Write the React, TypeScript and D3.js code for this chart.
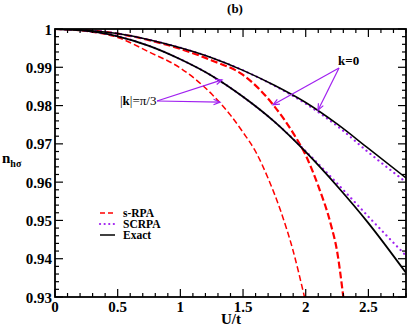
import React from 'react';
import * as d3 from 'd3';

// U/t grid shared by the exact and SCRPA curves
const uGrid = [0, 0.25, 0.5, 0.75, 1.0, 1.25, 1.5, 1.75, 2.0, 2.25, 2.5, 2.8];

// k = 0
const exactK0 = [1, 0.9997, 0.9988, 0.9972, 0.9951, 0.9925, 0.9892, 0.9853, 0.9808, 0.9752, 0.9688, 0.9611];
const scrpaK0 = [1, 0.9997, 0.9988, 0.9972, 0.9951, 0.9925, 0.9892, 0.9852, 0.9805, 0.9747, 0.9678, 0.96];
const srpaK0U = [0, 0.25, 0.5, 0.75, 1.0, 1.25, 1.5, 1.75, 1.9, 2.0, 2.1, 2.2, 2.25, 2.3];
const srpaK0 = [1, 0.9997, 0.9988, 0.9971, 0.9948, 0.9918, 0.988, 0.9798, 0.9728, 0.967, 0.959, 0.949, 0.942, 0.93];

// |k| = pi/3
const exactK3 = [1, 0.9995, 0.9981, 0.9956, 0.9921, 0.9878, 0.9823, 0.9758, 0.9679, 0.959, 0.9493, 0.9363];
const scrpaK3 = [1, 0.9995, 0.9981, 0.9956, 0.9921, 0.9878, 0.9823, 0.9758, 0.9681, 0.9597, 0.951, 0.9408];
const srpaK3U = [0, 0.25, 0.5, 0.75, 1.0, 1.25, 1.4, 1.5, 1.6, 1.7, 1.8, 1.9, 1.99];
const srpaK3 = [1, 0.9994, 0.9978, 0.994, 0.9898, 0.983, 0.9775, 0.973, 0.968, 0.961, 0.9525, 0.942, 0.93];

const xTicks = [0, 0.5, 1, 1.5, 2, 2.5];
const yTicks = [0.93, 0.94, 0.95, 0.96, 0.97, 0.98, 0.99, 1];
const legendItems = ['s-RPA', 'SCRPA', 'Exact'];

const RED = '#ff0000';
const PURPLE = '#a020f0';
const FONT = "'Liberation Serif', 'Times New Roman', serif";

const App = () => {
  const width = 409, height = 327;
  const left = 55, right = 406, top = 29, bottom = 297;

  const x = d3.scaleLinear().domain([0, 2.8]).range([left, right]);
  const y = d3.scaleLinear().domain([0.93, 1]).range([bottom, top]);

  const line = (us: number[], ns: number[]) =>
    d3.line<number>()
      .x((_, i) => x(us[i]))
      .y(d => y(d))
      .curve(d3.curveMonotoneX)(ns) || '';

  const xMinor = d3.range(0, 28.01, 1).map(v => v / 10).filter(v => !xTicks.some(t => Math.abs(t - v) < 1e-6));
  const yMinor = d3.range(930, 1000.1, 2).map(v => v / 1000).filter(v => !yTicks.some(t => Math.abs(t - v) < 1e-6));

  const arrowHead = (x1: number, y1: number, x2: number, y2: number) => {
    const a = Math.atan2(y2 - y1, x2 - x1);
    const l = 7, w = 0.4;
    const p1 = [x2 - l * Math.cos(a - w), y2 - l * Math.sin(a - w)];
    const p2 = [x2 - l * Math.cos(a + w), y2 - l * Math.sin(a + w)];
    return `M${p1[0]},${p1[1]}L${x2},${y2}L${p2[0]},${p2[1]}`;
  };

  const k0Targets = [[273, y(0.9802)], [318, y(0.9788)]];
  const k3Targets = [[222, y(0.9867)], [220, y(0.9809)]];

  return (
    <svg width={width} height={height} style={{ position: 'absolute', left: 0, top: 0, fontFamily: FONT }}>
      <defs>
        <clipPath id="plot">
          <rect x={left} y={top} width={right - left} height={bottom - top} />
        </clipPath>
      </defs>
      <rect width={width} height={height} fill="#fff" />

      <g clipPath="url(#plot)" fill="none">
        <path d={line(srpaK3U, srpaK3)} stroke={RED} strokeWidth={1.5} strokeDasharray="6,3" />
        <path d={line(srpaK0U, srpaK0)} stroke={RED} strokeWidth={2.2} strokeDasharray="7,3" />
        <path d={line(uGrid, scrpaK0)} stroke={PURPLE} strokeWidth={2.2} strokeDasharray="0.1,5" strokeLinecap="round" />
        <path d={line(uGrid, scrpaK3)} stroke={PURPLE} strokeWidth={2.2} strokeDasharray="0.1,5" strokeLinecap="round" />
        <path d={line(uGrid, exactK0)} stroke="#000" strokeWidth={1.5} />
        <path d={line(uGrid, exactK3)} stroke="#000" strokeWidth={1.8} />
      </g>

      {/* ticks on all four sides, inward */}
      <g stroke="#000" strokeWidth={1.2}>
        {xTicks.map(t => (
          <g key={'xt' + t}>
            <line x1={x(t)} x2={x(t)} y1={bottom} y2={bottom - 8} />
            <line x1={x(t)} x2={x(t)} y1={top} y2={top + 8} />
          </g>
        ))}
        {xMinor.map(t => (
          <g key={'xm' + t}>
            <line x1={x(t)} x2={x(t)} y1={bottom} y2={bottom - 4} />
            <line x1={x(t)} x2={x(t)} y1={top} y2={top + 4} />
          </g>
        ))}
        {yTicks.map(t => (
          <g key={'yt' + t}>
            <line x1={left} x2={left + 8} y1={y(t)} y2={y(t)} />
            <line x1={right} x2={right - 8} y1={y(t)} y2={y(t)} />
          </g>
        ))}
        {yMinor.map(t => (
          <g key={'ym' + t}>
            <line x1={left} x2={left + 4} y1={y(t)} y2={y(t)} />
            <line x1={right} x2={right - 4} y1={y(t)} y2={y(t)} />
          </g>
        ))}
      </g>
      <rect x={left} y={top} width={right - left} height={bottom - top} fill="none" stroke="#000" strokeWidth={1.8} />

      <g fontWeight="bold" fontSize={15}>
        {xTicks.map(t => (
          <text key={'xl' + t} x={x(t)} y={312} textAnchor="middle">{t}</text>
        ))}
        {yTicks.map(t => (
          <text key={'yl' + t} x={left - 3} y={y(t) + 5.5} textAnchor="end">{t === 1 ? '1' : t.toFixed(2)}</text>
        ))}
      </g>

      <text x={221} y={324} fontWeight="bold" fontSize={15}>U/t</text>
      <text x={2} y={163} fontWeight="bold" fontSize={15}>
        n<tspan fontSize={10} dy={4}>hσ</tspan>
      </text>
      <text x={235} y={13} fontWeight="bold" fontSize={13} textAnchor="middle">(b)</text>

      {/* legend */}
      <g fontWeight="bold" fontSize={11.5}>
        {legendItems.map((name, i) => (
          <g key={name}>
            <line x1={100} x2={115} y1={213 + i * 11} y2={213 + i * 11}
              stroke={i === 0 ? RED : i === 1 ? PURPLE : '#000'}
              strokeWidth={i === 1 ? 2.2 : 1.5}
              strokeDasharray={i === 0 ? '5,3' : i === 1 ? '0.1,4.5' : undefined}
              strokeLinecap={i === 1 ? 'round' : 'butt'} />
            <text x={123} y={217 + i * 11}>{name}</text>
          </g>
        ))}
      </g>

      {/* annotations */}
      <text x={338} y={65} fontWeight="bold" fontSize={13}>k=0</text>
      {k0Targets.map(([tx, ty], i) => (
        <g key={'a0' + i} stroke={PURPLE} strokeWidth={1.2} fill="none">
          <line x1={339} y1={68} x2={tx} y2={ty} />
          <path d={arrowHead(339, 68, tx, ty)} />
        </g>
      ))}
      <text x={120} y={105} fontSize={13}>|<tspan fontWeight="bold">k</tspan>|=π/3</text>
      {k3Targets.map(([tx, ty], i) => (
        <g key={'a3' + i} stroke={PURPLE} strokeWidth={1.2} fill="none">
          <line x1={157} y1={101} x2={tx} y2={ty} />
          <path d={arrowHead(157, 101, tx, ty)} />
        </g>
      ))}
    </svg>
  );
};

export default App;
